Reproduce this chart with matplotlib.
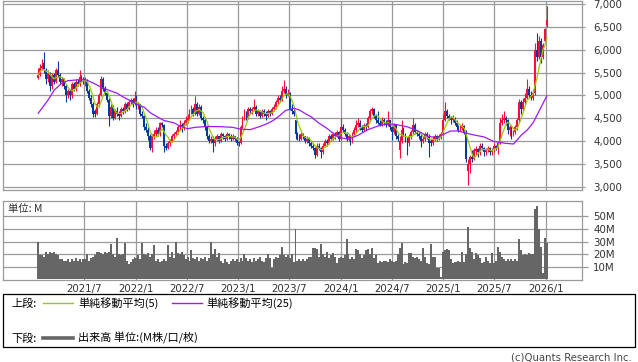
import matplotlib
matplotlib.use("Agg")
import matplotlib.pyplot as plt
import matplotlib.dates as mdates
from matplotlib.patches import Rectangle
from matplotlib.lines import Line2D
import numpy as np
import pandas as pd

# ---------------- data (weekly) ----------------
first_week = "2021-01-18"

opens = [
    5380, 5450, 5600, 5700, 5550, 5350, 5500, 5200, 5450, 5300,
    5550, 5450, 5300, 5350, 5200, 5000, 5100, 5000, 5250, 5150,
    5300, 5250, 5400, 5350, 5280, 5300, 5100, 4950, 4800, 4650,
    4600, 4800, 5000, 5350, 5150, 5050, 4900, 4550, 4750, 4500,
    4650, 4600, 4550, 4700, 4650, 4800, 4700, 4850, 4900, 4800,
    4950, 4750, 4800, 4600, 4550, 4300, 4250, 4100, 3850, 4100,
    4150, 4250, 4150, 4400, 4350, 3900, 3850, 3950, 4000, 4100,
    4150, 4200, 4300, 4350, 4300, 4400, 4450, 4500, 4650, 4700,
    4600, 4800, 4600, 4750, 4500, 4450, 4300, 4100, 4000, 4050,
    3950, 4050, 4100, 4000, 4150, 4100, 4050, 4150, 4100, 4050,
    4100, 4050, 3980, 3950, 4300, 4500, 4600, 4500, 4700, 4650,
    4700, 4750, 4600, 4650, 4550, 4650, 4600, 4550, 4650, 4600,
    4700, 4750, 4850, 4950, 4900, 5100, 5150, 5000, 5050, 4700,
    4650, 4450, 4150, 4100, 4050, 4150, 4100, 4000, 4050, 3950,
    3900, 3850, 3700, 3900, 3850, 3750, 3900, 4000, 3950, 4100,
    4050, 4150, 4100, 4200, 4050, 4300, 4250, 4150, 4050, 4100,
    4000, 4150, 4250, 4350, 4400, 4300, 4250, 4350, 4300, 4500,
    4650, 4700, 4550, 4450, 4400, 4350, 4450, 4400, 4350, 4450,
    4300, 4200, 4350, 4100, 3800, 4000, 4250, 4150, 4050, 3950,
    4100, 4200, 4350, 4200, 4150, 4100, 4000, 4050, 4150, 4100,
    4000, 3950, 4050, 4100, 4050, 4100, 4150, 4450, 4650, 4550,
    4500, 4450, 4500, 4400, 4300, 4250, 4280, 4320, 4200, 3350,
    3500, 3650, 3600, 3780, 3820, 3750, 3900, 3850, 3750, 3800,
    3850, 3750, 3800, 3900, 3850, 3950, 4400, 4450, 4500, 4450,
    4250, 4300, 4150, 4200, 4300, 4450, 4850, 4700, 4850, 4950,
    5150, 5000, 4950, 5050, 6000, 5850, 6200, 5850, 6200, 6550,
]

highs = [
    5600, 5680, 5800, 5950, 5600, 5550, 5520, 5500, 5500, 5600,
    5750, 5500, 5400, 5380, 5250, 5150, 5150, 5300, 5300, 5350,
    5350, 5550, 5450, 5400, 5400, 5350, 5150, 5000, 4850, 4700,
    4850, 5050, 5430, 5400, 5200, 5100, 4950, 4800, 4780, 4700,
    4750, 4650, 4750, 4750, 4850, 4850, 4900, 4950, 4950, 5100,
    5000, 4850, 4820, 4650, 4580, 4400, 4300, 4150, 4150, 4250,
    4300, 4300, 4420, 4420, 4380, 3950, 4000, 4050, 4150, 4200,
    4250, 4350, 4450, 4400, 4450, 4550, 4600, 4700, 4780, 4750,
    4990, 4850, 4800, 4780, 4550, 4500, 4320, 4150, 4100, 4100,
    4100, 4150, 4120, 4200, 4180, 4130, 4200, 4180, 4150, 4150,
    4120, 4080, 4000, 4350, 4550, 4700, 4650, 4750, 4750, 4750,
    4930, 4780, 4700, 4680, 4700, 4700, 4650, 4700, 4680, 4750,
    4800, 4900, 5000, 5000, 5200, 5340, 5200, 5150, 5080, 4800,
    4700, 4460, 4200, 4150, 4200, 4180, 4120, 4100, 4080, 4000,
    3950, 3880, 3950, 3950, 3880, 3950, 4050, 4050, 4150, 4150,
    4200, 4200, 4250, 4230, 4500, 4380, 4280, 4200, 4150, 4130,
    4200, 4300, 4450, 4500, 4450, 4350, 4400, 4400, 4550, 4700,
    4750, 4720, 4600, 4650, 4450, 4520, 4500, 4450, 4650, 4470,
    4330, 4400, 4380, 4150, 4100, 4460, 4300, 4180, 4080, 4150,
    4250, 4500, 4400, 4250, 4200, 4150, 4100, 4200, 4200, 4150,
    4050, 4100, 4150, 4130, 4150, 4200, 4600, 4860, 4700, 4600,
    4550, 4570, 4520, 4450, 4350, 4350, 4400, 4350, 4250, 3600,
    3700, 3800, 3850, 3900, 3850, 3950, 3950, 3880, 3850, 3900,
    3870, 3850, 3950, 3920, 4000, 4500, 4600, 4650, 4550, 4480,
    4350, 4330, 4250, 4350, 4500, 4930, 4900, 4950, 5050, 5360,
    5200, 5100, 5150, 6150, 6360, 6300, 6250, 6150, 6470, 6950,
]

lows = [
    5350, 5420, 5550, 5500, 5250, 5300, 5100, 5150, 5250, 5280,
    5400, 5250, 5200, 5150, 4850, 4950, 4900, 4950, 5100, 5100,
    5200, 5200, 5300, 5250, 5200, 5050, 4900, 4750, 4520, 4530,
    4580, 4750, 4980, 5100, 5000, 4850, 4340, 4500, 4450, 4480,
    4550, 4450, 4520, 4600, 4620, 4650, 4680, 4800, 4750, 4780,
    4700, 4700, 4550, 4500, 4250, 4200, 4020, 3800, 3760, 4050,
    4100, 4100, 4120, 4300, 3770, 3800, 3820, 3900, 3980, 4050,
    4100, 4150, 4250, 4200, 4250, 4350, 4400, 4450, 4600, 4550,
    4580, 4550, 4580, 4450, 4400, 4250, 4050, 3950, 3950, 3770,
    3900, 4000, 3950, 3980, 4050, 4000, 4020, 4050, 4000, 4020,
    4000, 3920, 3900, 3930, 4280, 4450, 4450, 4480, 4600, 4600,
    4680, 4550, 4550, 4500, 4520, 4550, 4450, 4520, 4550, 4580,
    4650, 4700, 4800, 4850, 4880, 5050, 4950, 4980, 4680, 4600,
    4550, 4050, 4020, 4000, 4020, 4050, 3950, 3950, 3900, 3850,
    3800, 3630, 3680, 3800, 3620, 3720, 3880, 3900, 3930, 4000,
    4020, 4050, 4080, 4000, 4030, 4200, 4100, 4000, 4000, 3920,
    3950, 4100, 4200, 4300, 4250, 4200, 4220, 4250, 4280, 4450,
    4600, 4500, 4400, 4380, 4320, 4320, 4350, 4300, 4320, 4250,
    4020, 4150, 4050, 4000, 3620, 3950, 4100, 3980, 3700, 3900,
    4050, 4150, 4150, 4100, 4050, 3880, 3950, 4000, 4050, 3660,
    3900, 3920, 4000, 4000, 4020, 4050, 4130, 4430, 4500, 4450,
    4380, 4420, 4350, 4250, 4200, 4220, 4240, 4150, 3550, 3040,
    3300, 3550, 3580, 3700, 3650, 3700, 3800, 3680, 3700, 3750,
    3700, 3700, 3760, 3800, 3720, 3930, 4350, 4400, 4350, 4150,
    4100, 4050, 4100, 4150, 4250, 4420, 4600, 4650, 4800, 4920,
    4950, 4900, 4900, 5000, 5750, 5800, 5700, 5800, 6150, 6500,
]

closes = [
    5450, 5600, 5650, 5550, 5350, 5500, 5200, 5450, 5300, 5550,
    5450, 5300, 5350, 5200, 5000, 5100, 5000, 5250, 5150, 5300,
    5250, 5400, 5350, 5300, 5320, 5100, 4950, 4800, 4600, 4600,
    4800, 5000, 5350, 5150, 5050, 4900, 4550, 4750, 4500, 4650,
    4600, 4550, 4700, 4650, 4800, 4700, 4850, 4900, 4800, 4950,
    4750, 4800, 4600, 4550, 4300, 4250, 4100, 3850, 4100, 4150,
    4250, 4150, 4400, 4350, 3900, 3850, 3950, 4000, 4100, 4150,
    4200, 4300, 4350, 4300, 4400, 4450, 4500, 4650, 4700, 4600,
    4800, 4600, 4750, 4500, 4450, 4300, 4100, 4000, 4050, 3950,
    4050, 4100, 4000, 4150, 4100, 4050, 4150, 4100, 4050, 4100,
    4050, 3950, 3950, 4300, 4500, 4600, 4500, 4700, 4650, 4700,
    4750, 4600, 4650, 4550, 4650, 4600, 4550, 4650, 4600, 4700,
    4750, 4850, 4950, 4900, 5100, 5150, 5000, 5050, 4700, 4650,
    4600, 4150, 4100, 4050, 4150, 4100, 4000, 4050, 3950, 3900,
    3850, 3700, 3900, 3850, 3750, 3900, 4000, 3950, 4100, 4050,
    4150, 4100, 4200, 4050, 4300, 4250, 4150, 4050, 4100, 4000,
    4150, 4250, 4350, 4400, 4300, 4250, 4350, 4300, 4500, 4650,
    4700, 4550, 4450, 4400, 4350, 4450, 4400, 4350, 4450, 4300,
    4200, 4350, 4100, 4050, 4000, 4250, 4150, 4050, 3950, 4100,
    4200, 4350, 4200, 4150, 4100, 4000, 4050, 4150, 4100, 3950,
    3950, 4050, 4100, 4050, 4100, 4150, 4450, 4650, 4550, 4500,
    4450, 4500, 4400, 4300, 4250, 4300, 4320, 4200, 3600, 3500,
    3650, 3600, 3800, 3820, 3750, 3900, 3850, 3750, 3800, 3850,
    3750, 3800, 3900, 3850, 3950, 4400, 4450, 4500, 4450, 4250,
    4300, 4150, 4200, 4300, 4450, 4850, 4700, 4850, 4950, 5150,
    5000, 4950, 5050, 6000, 5850, 6200, 5850, 6100, 6450, 6650,
]

volumes = [  # millions of shares
    30, 19, 19, 18, 22, 20, 22, 21, 22, 20,
    19, 16, 16, 15, 15, 16, 14, 16, 15, 17,
    15, 16, 14, 16, 16, 20, 15, 17, 18, 19,
    22, 22, 21, 20, 22, 21, 22, 28, 20, 18,
    33, 20, 19, 20, 29, 15, 12, 14, 16, 18,
    17, 19, 16, 29, 20, 19, 21, 18, 20, 27,
    15, 16, 14, 15, 16, 15, 27, 18, 22, 17,
    30, 21, 20, 22, 19, 16, 18, 15, 23, 17,
    16, 18, 15, 17, 16, 18, 15, 17, 30, 20,
    24, 18, 21, 15, 13, 16, 14, 12, 15, 16,
    15, 16, 14, 17, 15, 20, 17, 15, 16, 14,
    17, 15, 16, 18, 15, 14, 17, 20, 17, 9,
    16, 18, 17, 19, 26, 19, 18, 19, 17, 20,
    14, 40, 15, 16, 15, 16, 15, 16, 18, 18,
    25, 25, 24, 18, 28, 20, 18, 22, 17, 19,
    21, 18, 13, 17, 18, 17, 19, 32, 20, 16,
    18, 16, 24, 23, 20, 17, 19, 23, 24, 20,
    25, 17, 19, 13, 15, 14, 15, 15, 14, 16,
    15, 14, 15, 20, 25, 29, 12, 14, 13, 21,
    21, 18, 17, 18, 16, 15, 25, 18, 13, 12,
    28, 18, 18, 9, 9, 2, 22, 23, 24, 23,
    16, 13, 14, 14, 15, 14, 22, 14, 20, 42,
    25, 22, 16, 21, 19, 17, 13, 14, 18, 15,
    13, 21, 13, 15, 26, 22, 18, 16, 15, 16,
    15, 16, 15, 16, 15, 32, 23, 19, 20, 19,
    21, 20, 20, 56, 58, 40, 26, 5, 33, 29,
]

# 25-week moving average (week number -> value)
ma25_weeks = [0, 5, 8, 12, 15, 20, 24, 28, 32, 36, 40, 43, 48, 51, 54, 57, 61,
              64, 69, 72, 76, 80, 86, 93, 99, 103, 108, 113, 117, 120, 123,
              126, 130, 133, 136, 139, 143, 147, 152, 155, 158, 163, 168, 173,
              178, 183, 188, 193, 198, 203, 206, 210, 214, 218, 222, 227, 232,
              238, 242, 244, 246, 249, 252, 255, 259]
ma25_values = [4610, 4900, 5110, 5270, 5320, 5340, 5345, 5270, 5180, 5110,
               5050, 4970, 4860, 4790, 4740, 4620, 4520, 4450, 4400, 4330,
               4270, 4300, 4320, 4314, 4300, 4260, 4250, 4320, 4390, 4460,
               4560, 4670, 4716, 4680, 4600, 4530, 4390, 4278, 4110, 4065,
               4040, 4130, 4250, 4330, 4380, 4355, 4310, 4230, 4110, 4070,
               4140, 4220, 4220, 4170, 4132, 4090, 3990, 3950, 3935, 4030,
               4130, 4240, 4400, 4650, 4990]

price_ticks = [3000, 3500, 4000, 4500, 5000, 5500, 6000, 6500, 7000]
volume_ticks = [10, 20, 30, 40, 50]
xtick_dates = ["2021-07-01", "2022-01-01", "2022-07-01", "2023-01-01",
               "2023-07-01", "2024-01-01", "2024-07-01", "2025-01-01",
               "2025-07-01", "2026-01-01"]
xtick_labels = ["2021/7", "2022/1", "2022/7", "2023/1", "2023/7",
                "2024/1", "2024/7", "2025/1", "2025/7", "2026/1"]

# ---------------- styling ----------------
RED = "#ff0a3c"
BLUE = "#053a9a"
MA5_C = "#99cc00"
MA25_C = "#9b1bff"
VOL_C = "#666666"
GRID_C = "#9a9a9a"
TXT_C = "#333333"
CJK = ["Noto Sans CJK JP", "DejaVu Sans"]
plt.rcParams["font.family"] = ["DejaVu Sans", "Noto Sans CJK JP"]

W, H = 638, 362
fig = plt.figure(figsize=(W / 100, H / 100), dpi=100)
fig.patch.set_facecolor("white")


def fx(px):
    return px / W


def fy(py):
    return 1 - py / H


L, R = 3.0, 582.3
ax = fig.add_axes([fx(L), fy(190), (R - L) / W, (190 - 1) / H])
axv = fig.add_axes([fx(L), fy(280), (R - L) / W, (280 - 201) / H])

dates = pd.date_range(first_week, periods=len(closes), freq="7D")
xd = mdates.date2num(dates)
tick_x = mdates.date2num(pd.to_datetime(xtick_dates))

# horizontal pixel scale derived from the gridline layout
ppd = (545.7 - 84.3) / (tick_x[-1] - tick_x[0])
xmin = tick_x[0] - (84.3 - L) / ppd
xmax = tick_x[-1] + (R - 545.7) / ppd

o = np.array(opens, float)
c = np.array(closes, float)
h = np.array(highs, float)
lo = np.array(lows, float)
up = c >= o
cols = np.where(up, RED, BLUE)

for a in (ax, axv):
    a.set_xlim(xmin, xmax)
    a.set_xticks(tick_x)
    a.grid(True, color=GRID_C, lw=0.9, zorder=0)
    a.set_axisbelow(True)
    for s in a.spines.values():
        s.set_color(GRID_C)
        s.set_linewidth(0.9)
    a.yaxis.tick_right()

# candles
ax.vlines(xd, lo, h, colors=cols, lw=0.8, zorder=2)
body_b = np.minimum(o, c)
body_h = np.maximum(np.abs(c - o), 12)
ax.bar(xd, body_h, bottom=body_b, width=6.5, color=cols, lw=0, zorder=3)

# moving averages
ma5 = pd.Series(closes, dtype=float).rolling(5, min_periods=1).mean()
ax.plot(xd, ma5, color=MA5_C, lw=0.9, zorder=4)
ax.plot(xd[ma25_weeks], ma25_values, color=MA25_C, lw=0.9, zorder=4)

ax.set_ylim(2928, 7066)
ax.set_yticks(price_ticks)
ax.set_yticklabels([f"{v:,}" for v in price_ticks])
ax.tick_params(axis="y", which="both", right=True, left=False, labelright=True,
               labelleft=False, length=2, width=0.9, pad=6, labelsize=7.4,
               colors=GRID_C, labelcolor=TXT_C)
ax.tick_params(axis="x", bottom=False, labelbottom=False, length=0)

# volume
axv.bar(xd, volumes, width=7.0, color=VOL_C, lw=0, zorder=2)
axv.set_ylim(-0.5, 62.3)
axv.set_yticks(volume_ticks)
axv.set_yticklabels([f"{v}M" for v in volume_ticks])
axv.tick_params(axis="y", which="both", right=True, left=False, labelright=True,
                labelleft=False, length=4, width=0.9, pad=4, labelsize=7.4,
                colors=GRID_C, labelcolor=TXT_C)
axv.set_xticklabels(xtick_labels)
axv.tick_params(axis="x", length=0, pad=3, labelsize=7.4, labelcolor=TXT_C)

fig.text(fx(8), fy(209), "単位: M", fontsize=7.5, family=CJK, color=TXT_C,
         va="center", ha="left")

# legend box
fig.add_artist(Rectangle((fx(3.3), fy(346.7)), (634.7 - 3.3) / W,
                         (346.7 - 294.3) / H, transform=fig.transFigure,
                         fill=False, edgecolor="black", lw=0.9))
y1, y2 = fy(303.3), fy(338.3)
fig.text(fx(11.7), y1, "上段:", fontsize=8, family=CJK, va="center", color="black")
fig.add_artist(Line2D([fx(43.3), fx(72.7)], [y1, y1], color=MA5_C, lw=1.0,
                      transform=fig.transFigure))
fig.text(fx(78.3), y1, "単純移動平均(5)", fontsize=8, family=CJK, va="center", color="black")
fig.add_artist(Line2D([fx(171.7), fx(201.7)], [y1, y1], color=MA25_C, lw=1.0,
                      transform=fig.transFigure))
fig.text(fx(206.7), y1, "単純移動平均(25)", fontsize=8, family=CJK, va="center", color="black")
fig.text(fx(11.7), y2, "下段:", fontsize=8, family=CJK, va="center", color="black")
fig.add_artist(Line2D([fx(43.3), fx(72.7)], [y2, y2], color=VOL_C, lw=2.6,
                      transform=fig.transFigure))
fig.text(fx(78.3), y2, "出来高 単位:(M株/口/枚)", fontsize=8, family=CJK, va="center",
         color="black")

fig.text(fx(632), fy(357.5), "(c)Quants Research Inc.", fontsize=7.3, ha="right",
         va="center", color="#444444")

fig.savefig("out.png", dpi=100, facecolor="white")
